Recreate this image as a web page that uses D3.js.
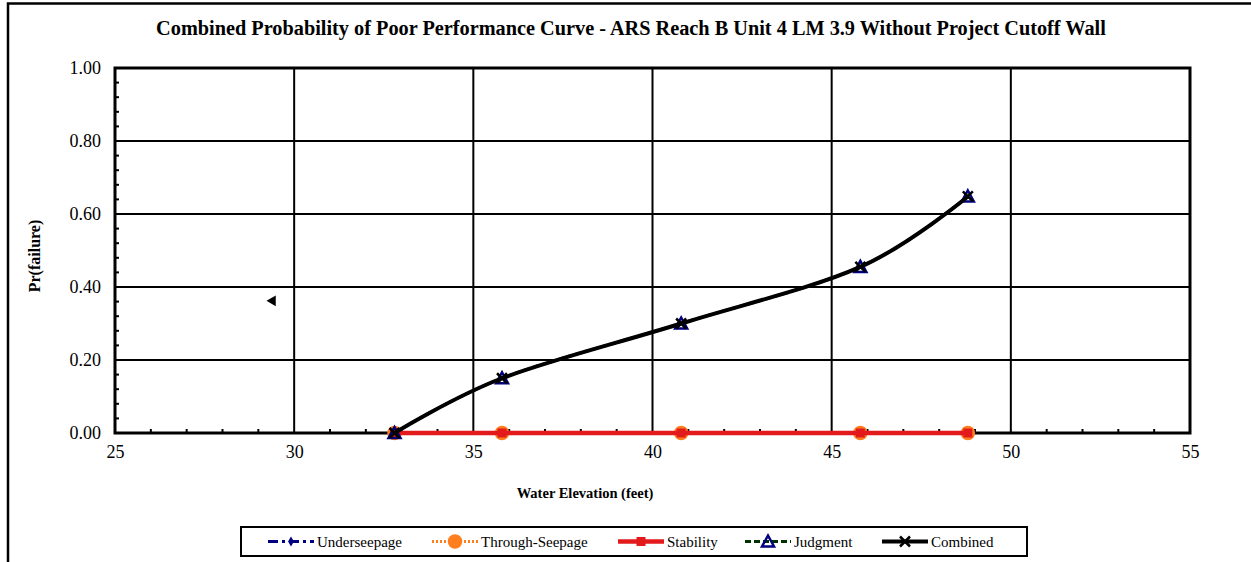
<!DOCTYPE html>
<html><head><meta charset="utf-8">
<script src="https://cdn.jsdelivr.net/npm/d3@7"></script>
<style>
html,body{margin:0;padding:0;background:#fff;}
svg{display:block;font-family:"Liberation Serif","Times New Roman",serif;}
svg text{font-family:"Liberation Serif","Times New Roman",serif;}
</style></head>
<body>
<svg id="chart" width="1251" height="562"></svg>
<script>
const elevations = [32.8, 35.8, 40.8, 45.8, 48.8];
const underseepage = [0, 0, 0, 0, 0];
const throughSeepage = [0, 0, 0, 0, 0];
const stability = [0, 0, 0, 0, 0];
const judgment = [0, 0.15, 0.30, 0.455, 0.648];
const combined = [0, 0.15, 0.30, 0.455, 0.648];
const xTicks = [25, 30, 35, 40, 45, 50, 55];
const yTicks = [0, 0.2, 0.4, 0.6, 0.8, 1.0];
const strayMarker = [29.4, 0.362];
const legendNames = ["Underseepage", "Through-Seepage", "Stability", "Judgment", "Combined"];

const svg = d3.select("#chart");
const L = 115, R = 1190, T = 68, B = 433;

// outer chart border
svg.append("rect").attr("x", 8).attr("y", 3.5).attr("width", 1260).attr("height", 600)
  .attr("fill", "none").attr("stroke", "#000").attr("stroke-width", 2.5);

const x = d3.scaleLinear().domain([25, 55]).range([L, R]);
const y = d3.scaleLinear().domain([0, 1]).range([B, T]);

// title
svg.append("text").attr("x", 631).attr("y", 35).attr("text-anchor", "middle")
  .attr("font-weight", "bold").attr("font-size", 20.3)
  .text("Combined Probability of Poor Performance Curve - ARS Reach B Unit 4 LM 3.9 Without Project Cutoff Wall");

// gridlines
const g = svg.append("g");
g.selectAll(".vg").data(xTicks.slice(1, -1)).join("line")
  .attr("x1", d => x(d)).attr("x2", d => x(d)).attr("y1", T).attr("y2", B)
  .attr("stroke", "#000").attr("stroke-width", 2);
g.selectAll(".hg").data(yTicks.slice(1, -1)).join("line")
  .attr("x1", L).attr("x2", R).attr("y1", d => y(d)).attr("y2", d => y(d))
  .attr("stroke", "#000").attr("stroke-width", 2);

// minor ticks (inside)
const xMinor = d3.range(26, 55, 1).filter(v => v % 5 !== 0);
g.selectAll(".xm").data(xMinor).join("line")
  .attr("x1", d => x(d)).attr("x2", d => x(d)).attr("y1", B).attr("y2", B - 4)
  .attr("stroke", "#000").attr("stroke-width", 2);
const yMinor = d3.range(1, 25).map(i => i * 0.04).filter(v => Math.abs(v * 5 - Math.round(v * 5)) > 1e-6);
g.selectAll(".ym").data(yMinor).join("line")
  .attr("x1", L).attr("x2", L + 4).attr("y1", d => y(d)).attr("y2", d => y(d))
  .attr("stroke", "#000").attr("stroke-width", 2);

// plot frame
svg.append("rect").attr("x", L).attr("y", T).attr("width", R - L).attr("height", B - T)
  .attr("fill", "none").attr("stroke", "#000").attr("stroke-width", 3);

// axes labels via d3 axes
const xAxis = svg.append("g").attr("transform", `translate(0,${B})`)
  .call(d3.axisBottom(x).tickValues(xTicks).tickSize(0).tickPadding(12).tickFormat(d3.format("d")));
xAxis.select(".domain").remove();
xAxis.attr("font-family", null);
xAxis.selectAll("text").attr("font-size", 18).attr("fill", "#000");

const yAxis = svg.append("g").attr("transform", `translate(${L},0)`)
  .call(d3.axisLeft(y).tickValues(yTicks).tickSize(0).tickPadding(14).tickFormat(d3.format(".2f")));
yAxis.select(".domain").remove();
yAxis.attr("font-family", null);
yAxis.selectAll("text").attr("font-size", 18).attr("fill", "#000");

// axis titles
svg.append("text").attr("x", 585).attr("y", 498).attr("text-anchor", "middle")
  .attr("font-weight", "bold").attr("font-size", 14.5).text("Water Elevation (feet)");
svg.append("text").attr("transform", "translate(40,256) rotate(-90)").attr("text-anchor", "middle")
  .attr("font-weight", "bold").attr("font-size", 16).text("Pr(failure)");

// stray marker
svg.append("path").attr("d", d3.symbol(d3.symbolTriangle, 50)())
  .attr("transform", `translate(${x(strayMarker[0])},${y(strayMarker[1])}) rotate(-90)`)
  .attr("fill", "#000");

const NAVY = "#000080", ORANGE = "#ff7f1e", RED = "#e31a1c", GREEN = "#003300", BLACK = "#000";
const straight = d3.line().x(d => x(d[0])).y(d => y(d[1]));
const smooth = d3.line().x(d => x(d[0])).y(d => y(d[1])).curve(d3.curveCatmullRom.alpha(0));
const pts = arr => elevations.map((e, i) => [e, arr[i]]);

const series = [
  {name: legendNames[0], data: underseepage, color: NAVY, width: 3, dash: "10,4,3,4", marker: "diamond", gen: straight},
  {name: legendNames[1], data: throughSeepage, color: ORANGE, width: 3, dash: "2,2", marker: "circle", gen: straight},
  {name: legendNames[2], data: stability, color: RED, width: 4.5, dash: null, marker: "square", gen: straight},
  {name: legendNames[3], data: judgment, color: GREEN, width: 3, dash: "6,3", marker: "triangle", gen: smooth},
  {name: legendNames[4], data: combined, color: BLACK, width: 4, dash: null, marker: "x", gen: smooth}
];

function drawMarker(sel, s, cx, cy) {
  if (s.marker === "diamond") {
    sel.append("path").attr("d", d3.symbol(d3.symbolDiamond, 30)()).attr("transform", `translate(${cx},${cy})`)
      .attr("fill", NAVY);
  } else if (s.marker === "circle") {
    sel.append("circle").attr("cx", cx).attr("cy", cy).attr("r", 6)
      .attr("fill", ORANGE).attr("stroke", ORANGE).attr("stroke-width", 2.5);
  } else if (s.marker === "square") {
    sel.append("rect").attr("x", cx - 4.5).attr("y", cy - 4.5).attr("width", 9).attr("height", 9).attr("fill", RED);
  } else if (s.marker === "triangle") {
    sel.append("path").attr("d", `M${cx},${cy - 6}L${cx + 6},${cy + 5}L${cx - 6},${cy + 5}Z`)
      .attr("fill", "none").attr("stroke", NAVY).attr("stroke-width", 2.5);
  } else if (s.marker === "x") {
    sel.append("path").attr("d", `M${cx - 5},${cy - 5}L${cx + 5},${cy + 5}M${cx - 5},${cy + 5}L${cx + 5},${cy - 5}`)
      .attr("stroke", BLACK).attr("stroke-width", 2.5);
  }
}

const plot = svg.append("g");
series.forEach(s => {
  plot.append("path").attr("d", s.gen(pts(s.data))).attr("fill", "none")
    .attr("stroke", s.color).attr("stroke-width", s.width)
    .attr("stroke-dasharray", s.dash);
  const mg = plot.append("g");
  elevations.forEach((e, i) => drawMarker(mg, s, x(e), y(s.data[i])));
});

// legend
const leg = svg.append("g");
leg.append("rect").attr("x", 241).attr("y", 527).attr("width", 786).attr("height", 29)
  .attr("fill", "#fff").attr("stroke", "#000").attr("stroke-width", 2);
const legX = [268, 432, 618, 745, 882];
series.forEach((s, i) => {
  const x0 = legX[i], ly = 541.5;
  leg.append("line").attr("x1", x0).attr("x2", x0 + 46).attr("y1", ly).attr("y2", ly)
    .attr("stroke", s.color).attr("stroke-width", s.width).attr("stroke-dasharray", s.dash);
  drawMarker(leg, s, x0 + 23, ly);
  leg.append("text").attr("x", x0 + 49).attr("y", ly + 5).attr("font-size", 15).text(s.name);
});
</script>
</body></html>
